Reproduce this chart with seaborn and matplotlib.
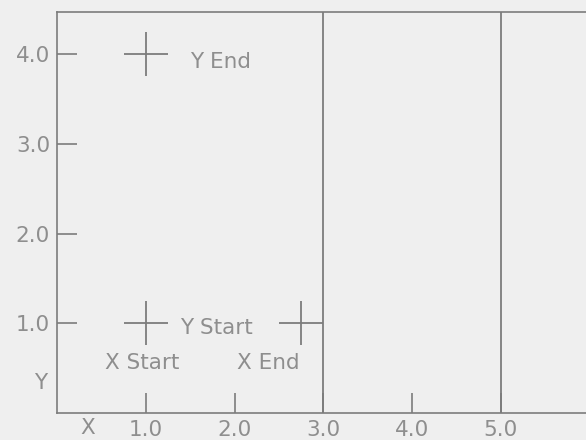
import matplotlib
matplotlib.use("Agg")
import matplotlib.pyplot as plt
import seaborn as sns
import pandas as pd

# cross markers (point locations)
cross_x = [1.0, 1.0, 2.75]
cross_y = [4.0, 1.0, 1.0]

# vertical boundary lines
vline_x = [3.0, 5.0]

# tick values and labels
x_ticks = [1.0, 2.0, 3.0, 4.0, 5.0]
x_tick_labels = ["1.0", "2.0", "3.0", "4.0", "5.0"]
y_ticks = [1.0, 2.0, 3.0, 4.0]
y_tick_labels = ["1.0", "2.0", "3.0", "4.0"]

# annotations
note_text = ["Y End", "Y Start", "X Start", "X End"]
note_x = [1.50, 1.39, 0.96, 2.38]
note_y = [3.91, 0.95, 0.56, 0.56]
note_ha = ["left", "left", "center", "center"]

bg = "#efefef"
ink = "#7c7c7c"
txt = "#8e8e8e"

sns.set_style("white")
plt.rcParams["font.family"] = ["DejaVu Sans"]

fig = plt.figure(figsize=(5.86, 4.40), dpi=100, facecolor=bg)
ax = fig.add_axes([0.0973, 0.0614, 0.9027, 0.9113])
ax.set_facecolor(bg)

pts = pd.DataFrame({"x": cross_x, "y": cross_y})
sns.scatterplot(data=pts, x="x", y="y", marker="+", s=1000, color=ink,
                linewidth=1.3, ax=ax, zorder=3)

for xv in vline_x:
    ax.axvline(xv, color=ink, lw=1.3, zorder=2)

ax.set_xlim(0, 5.96)
ax.set_ylim(0, 4.47)
ax.set_xticks(x_ticks, x_tick_labels)
ax.set_yticks(y_ticks, y_tick_labels)
ax.tick_params(direction="in", length=14.5, width=1.2, color=ink,
               labelcolor=txt, labelsize=15.5, pad=5,
               bottom=True, left=True, top=False, right=False)
ax.set_xlabel("")
ax.set_ylabel("")

for side in ["left", "bottom", "top"]:
    ax.spines[side].set_color(ink)
    ax.spines[side].set_linewidth(1.2)
ax.spines["right"].set_visible(False)

for t, x, y, ha in zip(note_text, note_x, note_y, note_ha):
    ax.text(x, y, t, ha=ha, va="center", fontsize=15.5, color=txt)

ax.text(-0.18, 0.33, "Y", ha="center", va="center", fontsize=15.5,
        color=txt, clip_on=False)
ax.text(0.35, -0.17, "X", ha="center", va="center", fontsize=15.5,
        color=txt, clip_on=False)

fig.savefig("out.png", dpi=100, facecolor=bg)
